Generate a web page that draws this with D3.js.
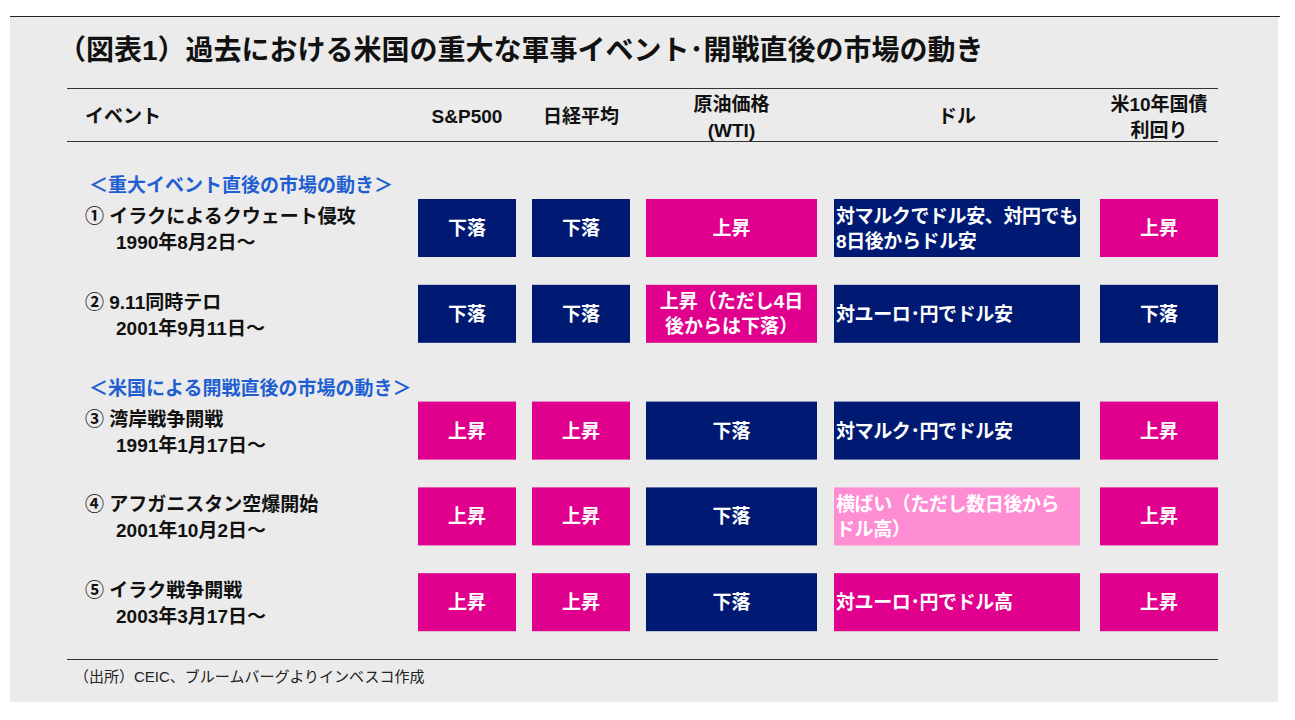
<!DOCTYPE html>
<html>
<head>
<meta charset="utf-8">
<title>過去における米国の重大な軍事イベント・開戦直後の市場の動き</title>
<script src="https://cdn.jsdelivr.net/npm/d3@7"></script>
<style>
  body { margin: 0; background: #fff; }
  svg { display: block; font-family: "Liberation Sans", Arial, "Noto Sans CJK JP", sans-serif; }
</style>
</head>
<body>
<svg id="chart" width="1295" height="720"></svg>
<script>
// --- data ---
var title = "（図表1）過去における米国の重大な軍事イベント･開戦直後の市場の動き";
var columns = ["S&P500", "日経平均", "原油価格\n(WTI)", "ドル", "米10年国債\n利回り"];
var sections = ["＜重大イベント直後の市場の動き＞", "＜米国による開戦直後の市場の動き＞"];
var events = ["① イラクによるクウェート侵攻", "② 9.11同時テロ", "③ 湾岸戦争開戦", "④ アフガニスタン空爆開始", "⑤ イラク戦争開戦"];
var dates = ["1990年8月2日～", "2001年9月11日～", "1991年1月17日～", "2001年10月2日～", "2003年3月17日～"];
var eventSection = [0, 0, 1, 1, 1];
var sp500 = ["下落", "下落", "上昇", "上昇", "上昇"];
var nikkei = ["下落", "下落", "上昇", "上昇", "上昇"];
var oil = ["上昇", "上昇（ただし4日\n後からは下落）", "下落", "下落", "下落"];
var dollar = ["対マルクでドル安、対円でも\n8日後からドル安", "対ユーロ･円でドル安", "対マルク･円でドル安", "横ばい（ただし数日後から\nドル高）", "対ユーロ･円でドル高"];
var dollarTone = ["down", "down", "down", "flat", "up"];
var yields = ["上昇", "下落", "上昇", "上昇", "上昇"];
var source = "（出所）CEIC、ブルームバーグよりインベスコ作成";

// --- layout ---
var svg = d3.select("#chart");
var colX = d3.scaleOrdinal().domain(columns).range([418, 532, 646, 834, 1100]);
var colW = d3.scaleOrdinal().domain(columns).range([98, 98, 171, 246, 118]);
var rowY = d3.scaleLinear().domain([0, 1]).range([199, 284.8]);
var sectionGap = 31, boxH = 58;
function yTop(i) { return rowY(i) + eventSection[i] * sectionGap; }

var tone = d3.scaleOrdinal().domain(["down", "up", "flat"]).range(["#001a73", "#e0008d", "#ff8dd4"]);
function toneOf(txt) { return txt.indexOf("上昇") === 0 ? "up" : "down"; }

var navyText = "#111", blue = "#1f5fd2";

// panel
svg.append("rect").attr("x", 10).attr("y", 16).attr("width", 1268).attr("height", 686).attr("fill", "#ebebeb");
svg.append("line").attr("x1", 10).attr("x2", 1280).attr("y1", 16.5).attr("y2", 16.5).attr("stroke", "#222").attr("stroke-width", 1.2);

svg.append("text").attr("x", 58).attr("y", 60)
  .attr("font-size", 28).attr("font-weight", "bold").attr("fill", navyText).text(title);

// header rules
[88, 141, 659].forEach(function(y) {
  svg.append("line").attr("x1", 67).attr("x2", 1218).attr("y1", y + 0.5).attr("y2", y + 0.5)
    .attr("stroke", "#333").attr("stroke-width", 1.2);
});

svg.append("text").attr("x", 85).attr("y", 123).attr("font-size", 19).attr("font-weight", "bold")
  .attr("fill", navyText).text("イベント");

columns.forEach(function(c) {
  var lines = c.split("\n");
  var cx = colX(c) + colW(c) / 2;
  var t = svg.append("text").attr("text-anchor", "middle").attr("font-size", 19)
    .attr("font-weight", "bold").attr("fill", navyText);
  if (lines.length === 1) {
    t.append("tspan").attr("x", cx).attr("y", 123).text(lines[0]);
  } else {
    lines.forEach(function(l, k) {
      t.append("tspan").attr("x", cx).attr("y", 111 + k * 26).text(l);
    });
  }
});

// section headers
sections.forEach(function(s, k) {
  var first = eventSection.indexOf(k);
  svg.append("text").attr("x", 89).attr("y", yTop(first) - 7).attr("font-size", 19)
    .attr("font-weight", "bold").attr("fill", blue).text(s);
});

// event labels
events.forEach(function(e, i) {
  var g = svg.append("g").attr("font-size", 19).attr("font-weight", "bold").attr("fill", navyText);
  g.append("text").attr("x", 85).attr("y", yTop(i) + 24).text(e);
  g.append("text").attr("x", 116).attr("y", yTop(i) + 50).text(dates[i]);
});

// cells
var cells = [];
events.forEach(function(e, i) {
  cells.push({ col: columns[0], row: i, text: sp500[i], tone: toneOf(sp500[i]), align: "middle" });
  cells.push({ col: columns[1], row: i, text: nikkei[i], tone: toneOf(nikkei[i]), align: "middle" });
  cells.push({ col: columns[2], row: i, text: oil[i], tone: toneOf(oil[i]), align: "middle" });
  cells.push({ col: columns[3], row: i, text: dollar[i], tone: dollarTone[i], align: "start" });
  cells.push({ col: columns[4], row: i, text: yields[i], tone: toneOf(yields[i]), align: "middle" });
});

var cg = svg.selectAll("g.cell").data(cells).enter().append("g").attr("class", "cell");
cg.append("rect")
  .attr("x", function(d) { return colX(d.col); })
  .attr("y", function(d) { return yTop(d.row); })
  .attr("width", function(d) { return colW(d.col); })
  .attr("height", boxH)
  .attr("fill", function(d) { return tone(d.tone); });

cg.each(function(d) {
  var lines = d.text.split("\n");
  var x = d.align === "middle" ? colX(d.col) + colW(d.col) / 2 : colX(d.col) + 2;
  var y0 = yTop(d.row) + boxH / 2 - (lines.length - 1) * 12.5 + 7;
  var t = d3.select(this).append("text").attr("text-anchor", d.align)
    .attr("font-size", 19).attr("font-weight", "bold").attr("fill", "#fff")
    .attr("letter-spacing", d.align === "start" ? -0.4 : 0);
  lines.forEach(function(l, k) {
    t.append("tspan").attr("x", x).attr("y", y0 + k * 25).text(l);
  });
});

svg.append("text").attr("x", 74).attr("y", 682).attr("font-size", 15).attr("fill", "#222").text(source);
</script>
</body>
</html>
